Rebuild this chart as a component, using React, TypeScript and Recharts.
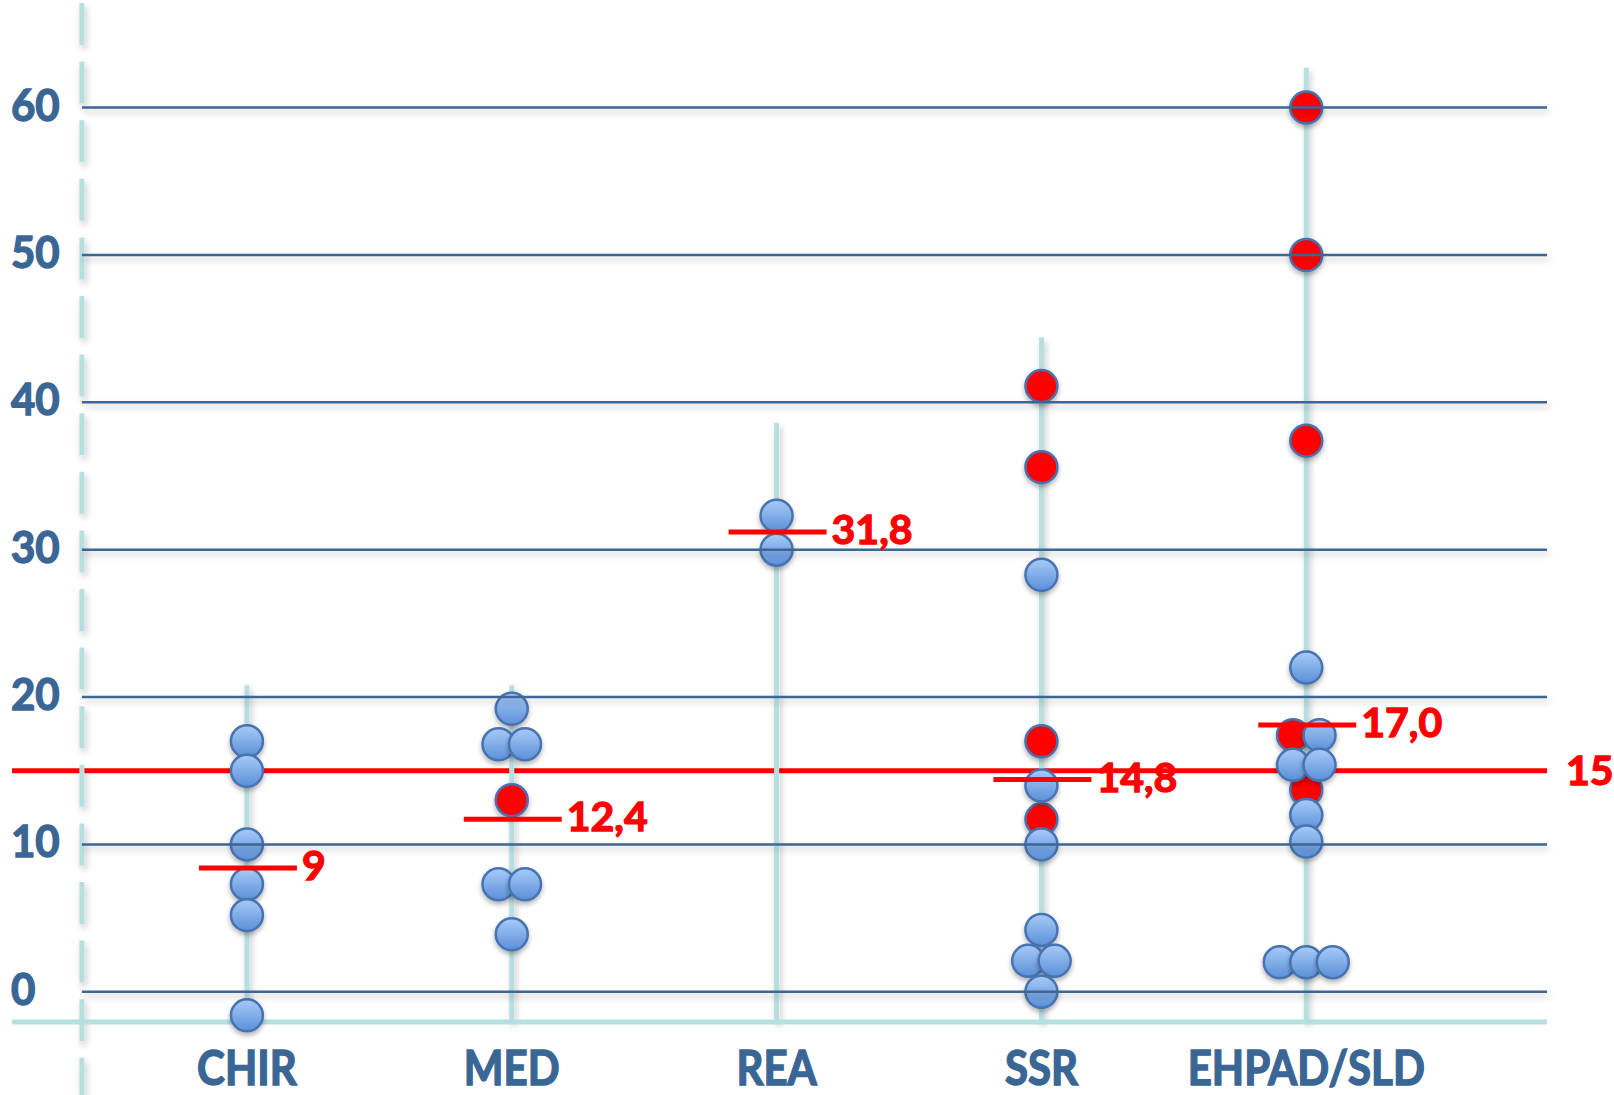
import { ReferenceLine, Scatter, ScatterChart, XAxis, YAxis } from "recharts";

const categories = ["CHIR", "MED", "REA", "SSR", "EHPAD/SLD"];

// blue = individual values, red = flagged values (per category)
const blueValues = [
  [17, 15, 10, 7.3, 5.2, -1.6],
  [19.2, 16.8, 16.8, 7.3, 7.3, 3.9],
  [32.3, 30],
  [28.3, 14, 10, 4.2, 2.1, 2.1, 0],
  [22, 17.4, 15.4, 15.4, 12, 10.2, 2, 2, 2],
];
const redValues = [[], [13], [], [41.1, 35.6, 17, 11.7], [60, 50, 37.4, 17.4, 13.7]];

const meanValues = [8.4, 11.7, 31.2, 14.4, 18.1];
const meanLabels = ["9", "12,4", "31,8", "14,8", "17,0"];
const stemTops = [20.8, 20.8, 38.6, 44.4, 62.7];
const yTicks = [0, 10, 20, 30, 40, 50, 60];
const threshold = 15;

// layout
const X_MIN = -0.887;
const X_MAX = 4.909;
const DASH_X = -0.623;
const Y_MIN = -2.05;
const Y_MAX = 67.3;
const SPREAD = 0.1;

const BLUE_TEXT = "#3a6695";
const GRID = "#3d6596";
const TEAL = "#b6dfe1";
const RED = "#ff0000";
const FONT = "Lato, 'Open Sans', sans-serif";

type Dot = { x: number; y: number; red: boolean };

function buildDots(): Dot[] {
  const out: Dot[] = [];
  categories.forEach((_, i) => {
    const all = [
      ...redValues[i].map((v) => ({ v, red: true })),
      ...blueValues[i].map((v) => ({ v, red: false })),
    ];
    const groups = new Map<number, { v: number; red: boolean }[]>();
    all.forEach((d) => {
      const g = groups.get(d.v) ?? [];
      g.push(d);
      groups.set(d.v, g);
    });
    groups.forEach((g) => {
      g.forEach((d, k) => {
        out.push({ x: i + (k - (g.length - 1) / 2) * SPREAD, y: d.v, red: d.red });
      });
    });
  });
  return out;
}

const dots = buildDots();
const means = categories.map((_, i) => ({ x: i, y: meanValues[i], label: meanLabels[i] }));

const shadowLine = (props: any) => (
  <line
    x1={props.x1}
    y1={props.y1}
    x2={props.x2}
    y2={props.y2}
    stroke={props.stroke}
    strokeWidth={props.strokeWidth}
    strokeDasharray={props.strokeDasharray}
    strokeDashoffset={-3}
    filter="url(#lineShadow)"
  />
);

const DotShape = (props: any) => {
  const { cx, cy, payload } = props;
  return (
    <circle
      cx={cx}
      cy={cy}
      r={16}
      fill={payload.red ? RED : "url(#dotGrad)"}
      stroke="#4673b0"
      strokeWidth={2.5}
      filter="url(#dotShadow)"
    />
  );
};

const boldText = (color: string) => ({
  fill: color,
  stroke: color,
  strokeWidth: 1.3,
  paintOrder: "stroke" as const,
  fontFamily: FONT,
  fontWeight: 700,
});

const MeanShape = (props: any) => {
  const { cx, cy, payload } = props;
  return (
    <g>
      <line x1={cx - 48} x2={cx + 50} y1={cy} y2={cy} stroke={RED} strokeWidth={5} />
      <text x={cx + 55} y={cy + 12} fontSize={41} {...boldText(RED)}>
        {payload.label}
      </text>
    </g>
  );
};

const YTick = (props: any) => (
  <text
    transform={`translate(11, ${props.y + 13}) scale(1, 1.05)`}
    fontSize={42}
    {...boldText(BLUE_TEXT)}
  >
    {props.payload.value}
  </text>
);

const XTick = (props: any) => (
  <text
    transform={`translate(${props.x}, 1085) scale(1, 1.12)`}
    textAnchor="middle"
    fontSize={42}
    {...boldText(BLUE_TEXT)}
  >
    {categories[props.payload.value]}
  </text>
);

export default function App() {
  return (
    <div style={{ position: "absolute", left: 0, top: 0, width: 1614, height: 1095, background: "#fff" }}>
      <ScatterChart width={1614} height={1095} margin={{ top: 0, right: 67, bottom: 0, left: 12 }}>
        <defs>
          <linearGradient id="dotGrad" x1="0" y1="0" x2="0" y2="1">
            <stop offset="0%" stopColor="#a8cbf8" />
            <stop offset="100%" stopColor="#5a8fd8" />
          </linearGradient>
          <filter id="lineShadow" filterUnits="userSpaceOnUse" x="0" y="0" width="1614" height="1095">
            <feDropShadow dx="2" dy="4" stdDeviation="3" floodColor="#000" floodOpacity="0.22" />
          </filter>
          <filter id="dotShadow" x="-50%" y="-50%" width="200%" height="200%">
            <feDropShadow dx="0" dy="3" stdDeviation="2.5" floodColor="#000" floodOpacity="0.3" />
          </filter>
        </defs>
        <XAxis
          type="number"
          dataKey="x"
          domain={[X_MIN, X_MAX]}
          ticks={[0, 1, 2, 3, 4]}
          height={73}
          axisLine={{ stroke: TEAL, strokeWidth: 5 }}
          tickLine={false}
          tick={<XTick />}
        />
        <YAxis
          type="number"
          dataKey="y"
          domain={[Y_MIN, Y_MAX]}
          ticks={yTicks}
          mirror
          axisLine={false}
          tickLine={false}
          tick={<YTick />}
        />
        <ReferenceLine
          y={threshold}
          stroke={RED}
          strokeWidth={5}
          zIndex={50}
          label={{
            value: String(threshold),
            position: "right",
            offset: 19,
            fill: RED,
            stroke: RED,
            strokeWidth: 1.3,
            fontSize: 41,
            fontWeight: 700,
            fontFamily: FONT,
          }}
        />
        {categories.map((c, i) => (
          <ReferenceLine
            key={c}
            segment={[
              { x: i, y: Y_MIN },
              { x: i, y: stemTops[i] },
            ]}
            stroke={TEAL}
            strokeWidth={5}
            ifOverflow="visible"
            zIndex={60}
            shape={shadowLine}
          />
        ))}
        <ReferenceLine
          segment={[
            { x: DASH_X, y: Y_MAX },
            { x: DASH_X, y: -7 },
          ]}
          stroke={TEAL}
          strokeWidth={5}
          strokeDasharray="42 16.6"
          ifOverflow="visible"
          zIndex={70}
          shape={shadowLine}
        />
        <Scatter data={dots} shape={<DotShape />} isAnimationActive={false} zIndex={600} />
        {yTicks.map((t) => (
          <ReferenceLine
            key={t}
            segment={[
              { x: DASH_X, y: t },
              { x: X_MAX, y: t },
            ]}
            stroke={GRID}
            strokeWidth={2.5}
            ifOverflow="visible"
            zIndex={700}
            shape={shadowLine}
          />
        ))}
        <Scatter data={means} shape={<MeanShape />} isAnimationActive={false} zIndex={800} />
      </ScatterChart>
    </div>
  );
}
